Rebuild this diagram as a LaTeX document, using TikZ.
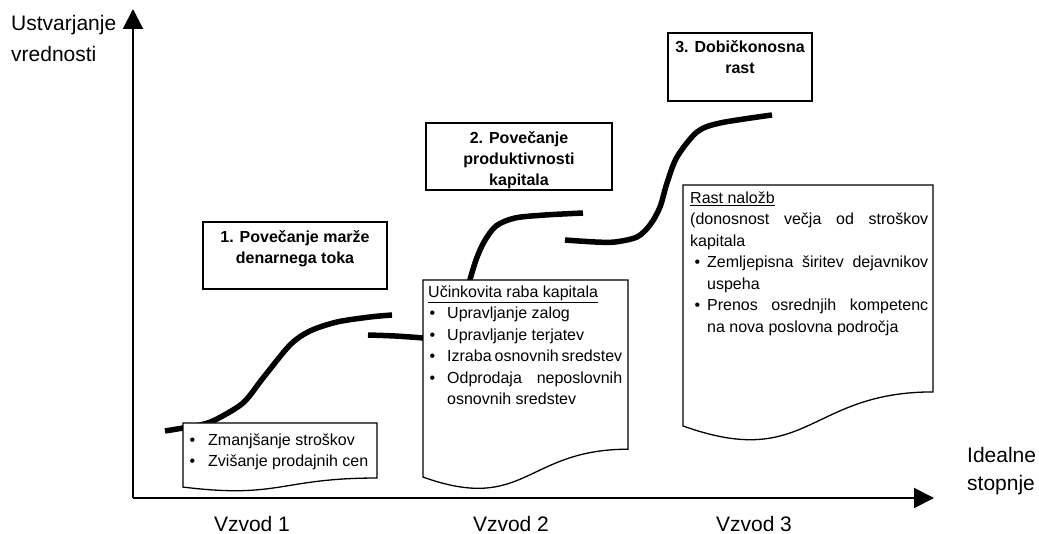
\documentclass[tikz,border=0pt]{standalone}
\usepackage{fontspec}
\setmainfont{Liberation Sans}
\usepackage{tikz}
\usetikzlibrary{arrows.meta}
\tikzset{
  pics/docsheet/.style 2 args = {
    code = {
    \draw[pic actions] (0,0) -- (#1,0) -- (#1,0.802*#2)
      .. controls (0.5*#1,0.802*#2) and (0.5*#1,1.1075*#2) .. (0,0.934*#2) -- cycle;
    }
  },
  titlebox/.style={draw, fill=white, line width=1.5pt, inner sep=0pt},
  titletext/.style={font=\fontsize{16}{21}\selectfont\bfseries, align=center, inner sep=0pt, anchor=north},
  doctext/.style={font=\fontsize{16}{21.5}\selectfont, inner sep=0pt, anchor=north west},
  krivulja/.style={line width=5.5pt}
}
% bullet line: hanging indent, gap after the bullet, text
\newcommand\tocka[3]{\par\hangindent=#1\hangafter=0\noindent\llap{\textbullet\hspace{#2}}#3}

\begin{document}
\begin{tikzpicture}[x=1pt,y=-1pt]
\useasboundingbox (0,0) rectangle (1039,534);

  \coordinate (o) at (133,498);
  \coordinate (ytop) at (133,9);
  \coordinate (xend) at (934,498);
  \draw[line width=2pt, -{Triangle[length=20pt,width=20pt]}] (o) -- (ytop);
  \draw[line width=2pt, -{Triangle[length=20pt,width=20pt]}] (o) -- (xend);

  \node[font=\fontsize{21}{31.7}\selectfont, align=left, inner sep=0pt, anchor=north west]
    (yos) at (11,14.7) {Ustvarjanje\\vrednosti};
  \node[font=\fontsize{21}{28}\selectfont, align=left, inner sep=0pt, anchor=north west]
    (xos) at (967,446.7) {Idealne\\stopnje};

  \foreach \i/\x in {1/252,2/511,3/754}{
    \node[font=\fontsize{21}{25}\selectfont, inner sep=0pt, anchor=base] (vzvod\i) at (\x,531) {Vzvod \i};
  }

  % the three s-curves
  \draw[krivulja] plot[smooth] coordinates {(165,431) (183,428) (200,425) (215,420) (243,403)
    (263,378) (290,345) (310,331) (337,322) (370,317) (392,315)};
  \draw[krivulja] plot[smooth] coordinates {(368,335) (395,336) (424,338)};
  \draw[krivulja] plot[smooth] coordinates {(469,283) (476,260) (484,242) (496,226) (515,218)
    (545,215) (583,213)};
  \draw[krivulja] plot[smooth] coordinates {(565,240) (595,242) (615,242) (637,237) (650,225)
    (660,207) (667,183) (677,157) (697,132) (720,123) (772,115)};

  \coordinate (list1) at (183,423);
  \coordinate (list2) at (423,280);
  \coordinate (list3) at (683,185);
  \pic[fill=white, line width=1.3pt] at (list1) {docsheet={194}{68.6}};
  \pic[fill=white, line width=1.3pt] at (list2) {docsheet={205}{211}};
  \pic[fill=white, line width=1.3pt] at (list3) {docsheet={250}{258}};

  \node[doctext] (besedilo1) at ([xshift=5pt,yshift=-10.3pt]list1)
    {\begin{minipage}{185pt}
     \tocka{20pt}{13pt}{Zmanjšanje stroškov}
     \tocka{20pt}{13pt}{Zvišanje prodajnih cen}
     \end{minipage}};
  \node[doctext] (besedilo2) at ([xshift=5pt,yshift=-5.3pt]list2)
    {\begin{minipage}{194pt}
     \underline{Učinkovita raba kapitala}
     \tocka{19pt}{12pt}{Upravljanje zalog}
     \tocka{19pt}{12pt}{Upravljanje terjatev}
     \tocka{19pt}{12pt}{Izraba osnovnih sredstev}
     \tocka{19pt}{12pt}{Odprodaja neposlovnih\linebreak osnovnih sredstev}
     \end{minipage}};
  \node[doctext] (besedilo3) at ([xshift=7pt,yshift=-6.3pt]list3)
    {\begin{minipage}{238pt}
     \underline{Rast naložb}\par
     (donosnost večja od stroškov\linebreak kapitala
     \tocka{17pt}{7pt}{Zemljepisna širitev dejavnikov\linebreak uspeha}
     \tocka{17pt}{7pt}{Prenos osrednjih kompetenc\linebreak na nova poslovna področja}
     \end{minipage}};

  \node[titlebox, minimum width=184pt, minimum height=67pt] (okvir1) at (295,255.5) {};
  \node[titlebox, minimum width=186pt, minimum height=67pt] (okvir2) at (519,156.5) {};
  \node[titlebox, minimum width=144pt, minimum height=68pt] (okvir3) at (740,67) {};
  \node[titletext] (naslov1) at ([yshift=-9pt]okvir1.north) {1. Povečanje marže\\denarnega toka};
  \node[titletext] (naslov2) at ([yshift=-9pt]okvir2.north) {2. Povečanje\\produktivnosti\\kapitala};
  \node[titletext] (naslov3) at ([yshift=-8pt]okvir3.north) {3. Dobičkonosna\\rast};

\end{tikzpicture}
\end{document}
